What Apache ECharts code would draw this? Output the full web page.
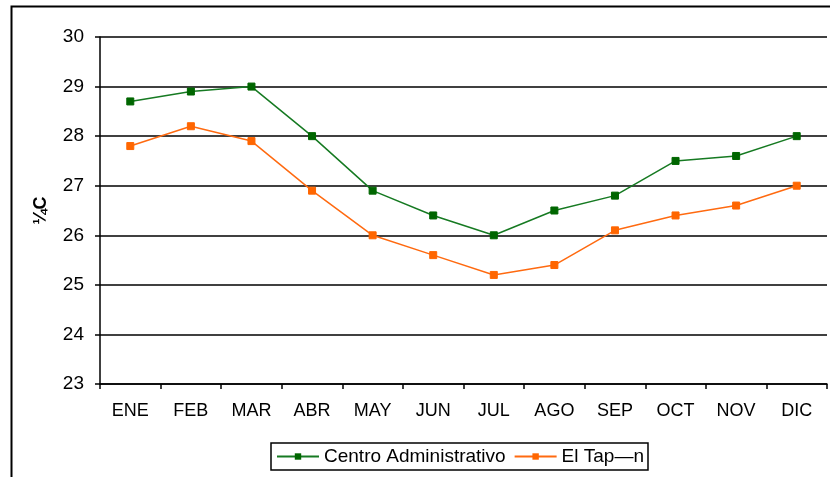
<!DOCTYPE html>
<html><head><meta charset="utf-8">
<script src="https://cdn.jsdelivr.net/npm/echarts@6/dist/echarts.min.js"></script>
<style>html,body{margin:0;padding:0;background:#fff}#c{width:830px;height:477px}</style>
</head><body><div id="c"></div>
<script>
const categories = ['ENE','FEB','MAR','ABR','MAY','JUN','JUL','AGO','SEP','OCT','NOV','DIC'];
const centroAdministrativo = [28.7,28.9,29.0,28.0,26.9,26.4,26.0,26.5,26.8,27.5,27.6,28.0];
const elTapon = [27.8,28.2,27.9,26.9,26.0,25.6,25.2,25.4,26.1,26.4,26.6,27.0];
const yTicks = [23,24,25,26,27,28,29,30];
const font = 'Liberation Sans, Arial, sans-serif';
const chart = echarts.init(document.getElementById('c'));
chart.setOption({
  animation:false,
  backgroundColor:'#fff',
  graphic:[{type:'rect',shape:{x:11.5,y:6.5,width:830,height:480},style:{fill:'none',stroke:'#000',lineWidth:2},silent:true}],
  grid:{left:100,top:37,right:3,bottom:93},
  legend:{left:271,top:443,width:384,height:28,padding:[4,4,4,5],borderColor:'#000',borderWidth:1.5,itemWidth:42,itemHeight:8,itemGap:8,
    textStyle:{fontFamily:font,fontSize:19,color:'#000'},data:['Centro Administrativo','El Tap—n']},
  xAxis:{type:'category',data:categories,boundaryGap:true,
    axisLine:{lineStyle:{color:'#000',width:1.5}},
    axisTick:{show:true,length:5,lineStyle:{color:'#000',width:1.5}},
    axisLabel:{fontFamily:font,fontSize:18,color:'#000',margin:18},splitLine:{show:false}},
  yAxis:{type:'value',min:23,max:30,interval:1,
    name:'¼C',nameLocation:'middle',nameGap:50,nameRotate:90,
    nameTextStyle:{fontFamily:font,fontSize:18,fontWeight:'bold',color:'#000'},
    axisLine:{show:true,lineStyle:{color:'#000',width:1.5}},
    axisTick:{show:true,length:5,lineStyle:{color:'#000',width:1.5}},
    axisLabel:{fontFamily:font,fontSize:19,color:'#000',margin:16},
    splitLine:{show:true,lineStyle:{color:'#000',width:1.5}}},
  series:[
    {name:'Centro Administrativo',type:'line',data:centroAdministrativo,symbol:'rect',symbolSize:7,
      lineStyle:{color:'#167a22',width:1.5},itemStyle:{color:'#006600',borderColor:'#006600'}},
    {name:'El Tap—n',type:'line',data:elTapon,symbol:'rect',symbolSize:7,
      lineStyle:{color:'#ff6a10',width:1.5},itemStyle:{color:'#ff6600',borderColor:'#ff6600'}}
  ]
});
</script></body></html>
